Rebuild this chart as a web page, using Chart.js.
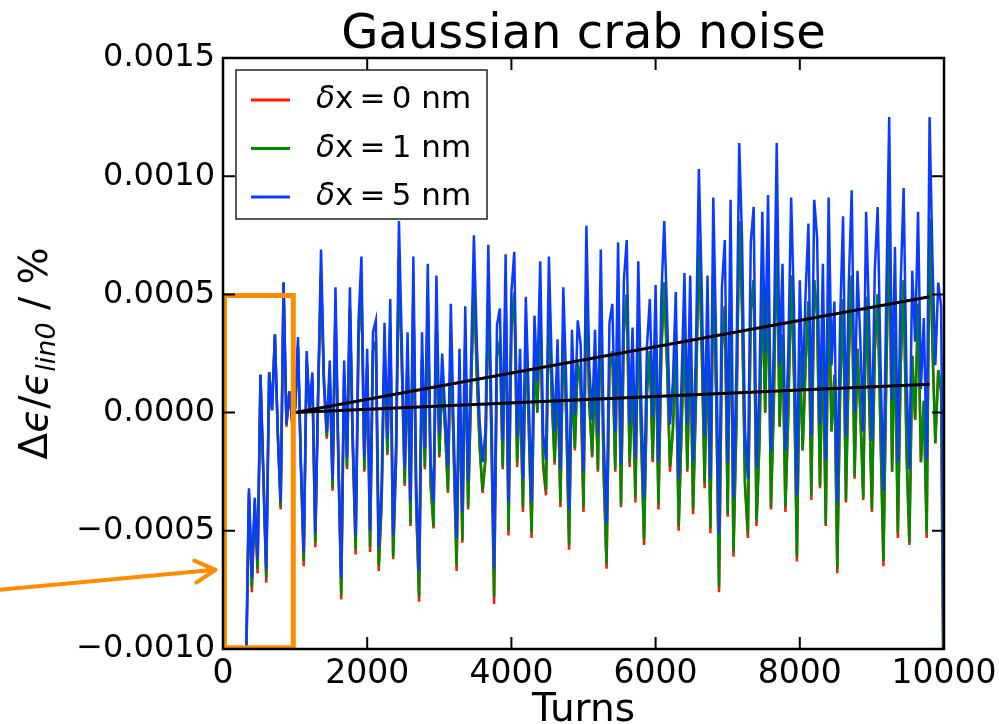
<!DOCTYPE html>
<html>
<head>
<meta charset="utf-8">
<script src="https://cdn.jsdelivr.net/npm/chart.js@4.4.0/dist/chart.umd.min.js"></script>
<style>
  html, body { margin: 0; padding: 0; background: #fff; }
</style>
</head>
<body>
<canvas id="chartCanvas" width="999" height="724"></canvas>
<script>
// values in units of 1e-5 (axis shows them as 0.0005 etc.)
const turnStart = 320;
const turnStep = 40;

const chartTitle = "Gaussian crab noise";
const seriesLabels = ["δx=0 nm", "δx=1 nm", "δx=5 nm"];
const seriesColors = ["#ff1a00", "#008a00", "#0a3cff"];

const blue = [
  -104,-32,-70,-36,-62,16,-25,-66,17,1,
  33,-8,-38,55,-5,9,-4,2,32,-20,
  -59,26,2,17,-51,10,69,15,-8,22,
  -28,53,-17,-70,22,-19,53,-10,-52,39,
  66,-19,27,-50,34,39,-57,-31,38,-11,
  48,-52,-14,81,29,-23,34,-38,66,-30,
  -67,34,-15,63,-21,-38,58,-9,25,1,
  -23,46,-8,-53,27,-42,45,-29,20,75,
  30,-4,-21,-8,71,6,-66,37,44,-12,
  67,-38,51,68,-10,27,-28,49,7,-38,
  41,13,64,-9,-20,66,20,-8,31,-24,
  53,13,-41,35,-1,39,29,-25,79,20,
  -3,35,-9,69,-10,-47,38,46,-8,72,
  -22,56,73,-5,36,-19,64,6,-36,28,
  48,-2,54,-21,49,81,41,-5,13,51,
  -28,13,59,-5,58,-21,28,103,52,-10,
  58,-28,91,30,-51,53,73,-21,90,-36,
  17,114,72,-8,-28,72,87,-23,11,85,
  25,92,-16,30,114,20,63,-16,25,91,
  44,-35,56,10,50,80,-10,90,74,-5,
  63,-20,91,20,47,-38,40,83,-10,55,
  94,0,60,30,-8,85,40,-12,60,87,
  20,-33,50,125,5,70,-21,55,95,15,
  -24,60,30,85,10,40,-20,125,65,20,
  55,45,-110
];

const green = [
  -110,-34,-74,-38,-66,16,-27,-70,17,1,
  33,-9,-40,55,-5,9,-4,2,28,-22,
  -63,22,1,14,-55,8,59,12,-10,17,
  -32,44,-20,-77,17,-23,44,-14,-58,31,
  54,-24,20,-57,26,30,-65,-38,28,-17,
  37,-61,-20,65,20,-30,24,-47,52,-39,
  -78,23,-23,48,-30,-48,43,-18,14,-7,
  -33,32,-17,-65,15,-54,30,-40,8,56,
  16,-14,-33,-19,52,-6,-78,24,30,-23,
  50,-50,35,51,-21,13,-40,33,-5,-51,
  25,0,46,-21,-33,47,6,-21,15,-38,
  35,-1,-56,18,-15,21,12,-40,57,4,
  -18,17,-24,47,-25,-64,19,26,-24,49,
  -39,34,50,-21,16,-36,41,-11,-54,8,
  26,-20,31,-39,26,55,19,-23,-7,27,
  -48,-7,34,-24,33,-41,6,73,27,-30,
  32,-49,62,7,-74,27,45,-43,60,-59,
  -6,81,43,-30,-51,43,56,-46,-13,54,
  0,60,-40,4,79,-6,33,-40,-1,58,
  15,-61,26,-16,20,47,-35,56,41,-31,
  31,-47,56,-8,16,-66,10,48,-37,23,
  58,-27,27,0,-36,49,8,-41,26,50,
  -10,-63,16,84,-25,34,-51,20,56,-16,
  -55,24,-3,46,-21,5,-51,82,28,-13,
  18,9,-146
];

const red = [
  -113,-35,-76,-39,-68,16,-28,-72,17,1,
  33,-9,-41,55,-6,9,-5,2,28,-23,
  -65,22,1,14,-57,8,59,12,-11,17,
  -33,44,-21,-79,17,-24,44,-15,-60,31,
  54,-25,20,-59,26,30,-67,-39,28,-18,
  37,-62,-21,65,20,-31,24,-48,52,-40,
  -80,23,-24,48,-31,-49,43,-19,14,-7,
  -34,32,-18,-67,15,-55,30,-41,8,56,
  16,-15,-34,-20,52,-6,-81,24,30,-24,
  50,-52,35,51,-23,13,-42,33,-5,-53,
  25,0,46,-23,-35,47,6,-22,15,-40,
  35,-1,-58,18,-16,21,12,-42,57,4,
  -19,17,-25,47,-27,-66,19,26,-25,49,
  -40,34,50,-23,16,-38,41,-11,-56,8,
  26,-21,31,-41,26,55,19,-25,-7,27,
  -50,-7,34,-25,33,-43,6,73,27,-32,
  32,-51,62,7,-76,27,45,-44,60,-61,
  -6,81,43,-31,-53,43,56,-48,-13,54,
  0,60,-41,4,79,-6,33,-42,-1,58,
  15,-63,26,-16,20,47,-37,56,41,-32,
  31,-48,56,-8,16,-68,10,48,-38,23,
  58,-28,27,0,-37,49,8,-42,26,50,
  -10,-65,16,84,-25,34,-53,20,56,-16,
  -56,24,-3,46,-21,5,-53,82,28,-13,
  18,9,-150
];

// linear fits drawn in black
const fitTurns = [1000, 9800];
const fitBlue = [0, 49];
const fitGreen = [0, 12];

// orange highlight box and arrow
const boxTurns = [20, 20, 975, 975, 20];
const boxVals = [-99.5, 49.5, 49.5, -99.5, -99.5];
const arrowTurns = [-3100, -105];
const arrowVals = [-75, -66.5];

const xTickValues = [0, 2000, 4000, 6000, 8000, 10000];
const yTickValues = [-100, -50, 0, 50, 100, 150];

const turns = blue.map((_, i) => turnStart + turnStep * i);
const toPoints = (xs, ys) => xs.map((t, i) => ({ x: t, y: ys[i] }));

const FONT = "'DejaVu Sans', sans-serif";
Chart.defaults.font.family = FONT;
Chart.defaults.color = "#000";

const decorPlugin = {
  id: "decor",
  afterDatasetsDraw(chart) {
    const { ctx, chartArea: a, scales: { x, y } } = chart;
    ctx.save();

    // frame with inward ticks
    ctx.strokeStyle = "#000";
    ctx.lineWidth = 2.5;
    ctx.strokeRect(a.left, a.top, a.right - a.left, a.bottom - a.top);
    ctx.lineWidth = 2;
    ctx.beginPath();
    xTickValues.forEach((v) => {
      const px = x.getPixelForValue(v);
      ctx.moveTo(px, a.bottom); ctx.lineTo(px, a.bottom - 12);
      ctx.moveTo(px, a.top); ctx.lineTo(px, a.top + 12);
    });
    yTickValues.forEach((v) => {
      const py = y.getPixelForValue(v);
      ctx.moveTo(a.left, py); ctx.lineTo(a.left + 12, py);
      ctx.moveTo(a.right, py); ctx.lineTo(a.right - 12, py);
    });
    ctx.stroke();

    // title, centred over the plot area
    ctx.fillStyle = "#000";
    ctx.font = "48px " + FONT;
    ctx.textAlign = "center";
    ctx.textBaseline = "alphabetic";
    ctx.fillText(chartTitle, (a.left + a.right) / 2, 48);

    // legend
    const lx = a.left + 13, ly = a.top + 12, lw = 251, lh = 149;
    ctx.fillStyle = "#fff";
    ctx.fillRect(lx, ly, lw, lh);
    ctx.strokeStyle = "#222";
    ctx.lineWidth = 1.5;
    ctx.strokeRect(lx, ly, lw, lh);
    seriesLabels.forEach((lab, i) => {
      const ry = ly + 30 + i * 48.5;
      ctx.strokeStyle = seriesColors[i];
      ctx.lineWidth = 3;
      ctx.beginPath();
      ctx.moveTo(lx + 15, ry); ctx.lineTo(lx + 54, ry);
      ctx.stroke();
      ctx.fillStyle = "#000";
      ctx.textBaseline = "middle";
      ctx.textAlign = "left";
      ctx.font = "italic 31px " + FONT;
      ctx.fillText(lab[0], lx + 80, ry);
      const w = ctx.measureText(lab[0]).width;
      ctx.font = "31px " + FONT;
      ctx.fillText(lab.slice(1).replace("=", "\u2009=\u2009"), lx + 80 + w, ry);
    });

    // x axis label
    ctx.fillStyle = "#000";
    ctx.font = "39px " + FONT;
    ctx.textAlign = "center";
    ctx.textBaseline = "alphabetic";
    ctx.fillText("Turns", (a.left + a.right) / 2, 721);

    // y axis label with subscript
    const parts = [
      { t: "Δ", f: "39px " + FONT, dy: 0 },
      { t: "ϵ", f: "italic 39px " + FONT, dy: 0 },
      { t: "/", f: "39px " + FONT, dy: 0 },
      { t: "ϵ", f: "italic 39px " + FONT, dy: 0 },
      { t: "lin0", f: "italic 27px " + FONT, dy: 8 },
      { t: " / %", f: "39px " + FONT, dy: 0 },
    ];
    let total = 0;
    parts.forEach((p) => { ctx.font = p.f; p.w = ctx.measureText(p.t).width; total += p.w; });
    ctx.save();
    ctx.translate(47, (a.top + a.bottom) / 2);
    ctx.rotate(-Math.PI / 2);
    ctx.textAlign = "left";
    let cx = -total / 2;
    parts.forEach((p) => { ctx.font = p.f; ctx.fillText(p.t, cx, p.dy); cx += p.w; });
    ctx.restore();

    // orange arrow pointing at the box
    const x0 = x.getPixelForValue(arrowTurns[0]), y0 = y.getPixelForValue(arrowVals[0]);
    const x1 = x.getPixelForValue(arrowTurns[1]), y1 = y.getPixelForValue(arrowVals[1]);
    const ang = Math.atan2(y1 - y0, x1 - x0);
    ctx.strokeStyle = "#ff8c00";
    ctx.lineWidth = 4;
    ctx.lineCap = "round";
    ctx.beginPath();
    ctx.moveTo(x0, y0); ctx.lineTo(x1, y1);
    [0.5, -0.5].forEach((d) => {
      ctx.moveTo(x1, y1);
      ctx.lineTo(x1 - 23 * Math.cos(ang + d), y1 - 23 * Math.sin(ang + d));
    });
    ctx.stroke();

    ctx.restore();
  },
};

const lineDs = (label, xs, ys, color, width) => ({
  label: label,
  data: toPoints(xs, ys),
  borderColor: color,
  borderWidth: width,
  pointRadius: 0,
  fill: false,
  tension: 0,
});

new Chart(document.getElementById("chartCanvas"), {
  type: "line",
  data: {
    datasets: [
      lineDs("box", boxTurns, boxVals, "#ff8c00", 5),
      lineDs("fit 5 nm", fitTurns, fitBlue, "#000", 3),
      lineDs("fit 1 nm", fitTurns, fitGreen, "#000", 3),
      lineDs(seriesLabels[2], turns, blue, seriesColors[2], 2.5),
      lineDs(seriesLabels[1], turns, green, seriesColors[1], 2.5),
      lineDs(seriesLabels[0], turns, red, seriesColors[0], 2.5),
    ],
  },
  options: {
    responsive: false,
    animation: false,
    devicePixelRatio: 1,
    layout: { padding: { left: 0, right: 55, top: 58, bottom: 0 } },
    plugins: {
      legend: { display: false },
      tooltip: { enabled: false },
      title: { display: false },
    },
    scales: {
      x: {
        type: "linear",
        min: 0,
        max: 10000,
        grid: { display: false, drawTicks: false },
        border: { display: false },
        ticks: {
          stepSize: 2000,
          autoSkip: false,
          maxRotation: 0,
          minRotation: 0,
          padding: 6,
          color: "#000",
          font: { size: 33 },
          callback: (v) => String(v),
        },
        afterFit: (s) => { s.height = 75; s.paddingLeft = 0; s.paddingRight = 0; },
      },
      y: {
        type: "linear",
        min: -100,
        max: 150,
        grid: { display: false, drawTicks: false },
        border: { display: false },
        ticks: {
          stepSize: 50,
          padding: 8,
          color: "#000",
          font: { size: 32 },
          callback: (v) => {
            const s = (Math.abs(v) / 1e5).toFixed(4);
            return v < 0 ? "\u2212" + s : s;
          },
        },
        afterFit: (s) => { s.width = 223; s.paddingTop = 0; s.paddingBottom = 0; },
      },
    },
  },
  plugins: [decorPlugin],
});
</script>
</body>
</html>
